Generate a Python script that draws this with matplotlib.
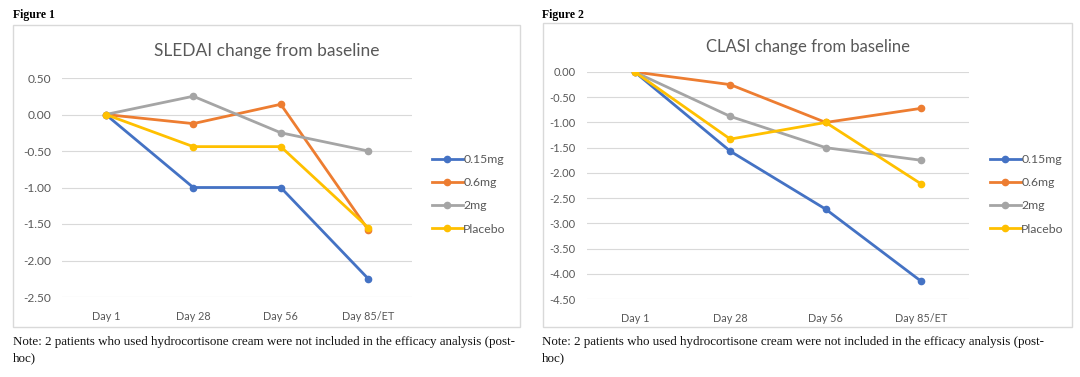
import numpy as np
import matplotlib
matplotlib.use("Agg")
import matplotlib.pyplot as plt
from matplotlib.patches import Rectangle

plt.rcParams['font.family'] = ['Lato', 'DejaVu Sans']

days = ['Day 1', 'Day 28', 'Day 56', 'Day 85/ET']
groups = ['0.15mg', '0.6mg', '2mg', 'Placebo']
colors = ['#4472C4', '#ED7D31', '#A5A5A5', '#FFC000']

sledai_015 = [0.00, -1.00, -1.00, -2.25]
sledai_06 = [0.00, -0.125, 0.14, -1.58]
sledai_2 = [0.00, 0.25, -0.25, -0.50]
sledai_pbo = [0.00, -0.44, -0.44, -1.55]

clasi_015 = [0.00, -1.57, -2.72, -4.15]
clasi_06 = [0.00, -0.25, -1.00, -0.72]
clasi_2 = [0.00, -0.88, -1.50, -1.75]
clasi_pbo = [0.00, -1.33, -1.00, -2.22]

sledai_ticks = [0.5, 0.0, -0.5, -1.0, -1.5, -2.0, -2.5]
clasi_ticks = [0.0, -0.5, -1.0, -1.5, -2.0, -2.5, -3.0, -3.5, -4.0, -4.5]

W, H = 1080, 377
fig = plt.figure(figsize=(W / 100, H / 100), dpi=100)


def px_box(x0, y0, x1, y1):
    # pixel box (top-left origin) -> figure fraction [l, b, w, h]
    return [x0 / W, 1 - y1 / H, (x1 - x0) / W, (y1 - y0) / H]


note = ("Note: 2 patients who used hydrocortisone cream were not included in the efficacy analysis (post-\nhoc)")


def draw_panel(fig_label, title, title_y, title_size, box, plot, legend_xy, series,
               ticks, ylim, lbl_x, ysize):
    # chart frame
    l, b, w, h = px_box(*box)
    fig.patches.append(Rectangle((l, b), w, h, transform=fig.transFigure,
                                 facecolor='none', edgecolor='#D9D9D9', linewidth=1.0))
    fig.text(lbl_x / W, 1 - 15 / H, fig_label, family='Liberation Serif',
             fontweight='bold', fontsize=8.5, va='center', ha='left')
    fig.text((box[0] + box[2]) / 2 / W, 1 - title_y / H, title,
             fontsize=title_size, color='#595959', ha='center', va='center')
    fig.text(lbl_x / W, 1 - 336 / H, note, family='Liberation Serif',
             fontsize=9.4, va='top', ha='left', linespacing=1.45, color='#111111')

    ax = fig.add_axes(px_box(*plot))
    x = np.arange(len(days))
    handles = []
    for vals, c, g in zip(series, colors, groups):
        ln, = ax.plot(x, vals, color=c, linewidth=2.0, marker='o', markersize=4.5,
                      label=g, zorder=3)
        handles.append(ln)
    ax.set_xlim(-0.5, len(days) - 0.5)
    ax.set_ylim(*ylim)
    ax.set_yticks(ticks)
    ax.set_yticklabels(['%.2f' % t for t in ticks])
    ax.set_xticks(x)
    ax.set_xticklabels(days)
    ax.tick_params(length=0, labelcolor='#595959')
    ax.tick_params(axis='y', pad=8, labelsize=ysize)
    ax.tick_params(axis='x', pad=10, labelsize=7.8)
    for s in ax.spines.values():
        s.set_visible(False)
    ax.grid(axis='y', color='#D9D9D9', linewidth=0.8)
    ax.set_axisbelow(True)
    fig.legend(handles=handles, loc='upper left',
               bbox_to_anchor=(legend_xy[0] / W, 1 - legend_xy[1] / H),
               frameon=False, fontsize=8.8, labelcolor='#595959',
               handlelength=2.5, handletextpad=0.05, labelspacing=1.0,
               borderaxespad=0, borderpad=0)


draw_panel('Figure 1', 'SLEDAI change from baseline', 51, 12.5, (13, 25, 520, 327),
           (62, 78, 412, 297), (432, 154),
           [sledai_015, sledai_06, sledai_2, sledai_pbo], sledai_ticks, (-2.5, 0.5),
           13, 8.6)
draw_panel('Figure 2', 'CLASI change from baseline', 47, 12.0, (543, 23, 1072, 327),
           (587, 72, 969, 299), (990, 154),
           [clasi_015, clasi_06, clasi_2, clasi_pbo], clasi_ticks, (-4.5, 0.0),
           542, 8.0)

fig.savefig('out.png', dpi=100, facecolor='white')
